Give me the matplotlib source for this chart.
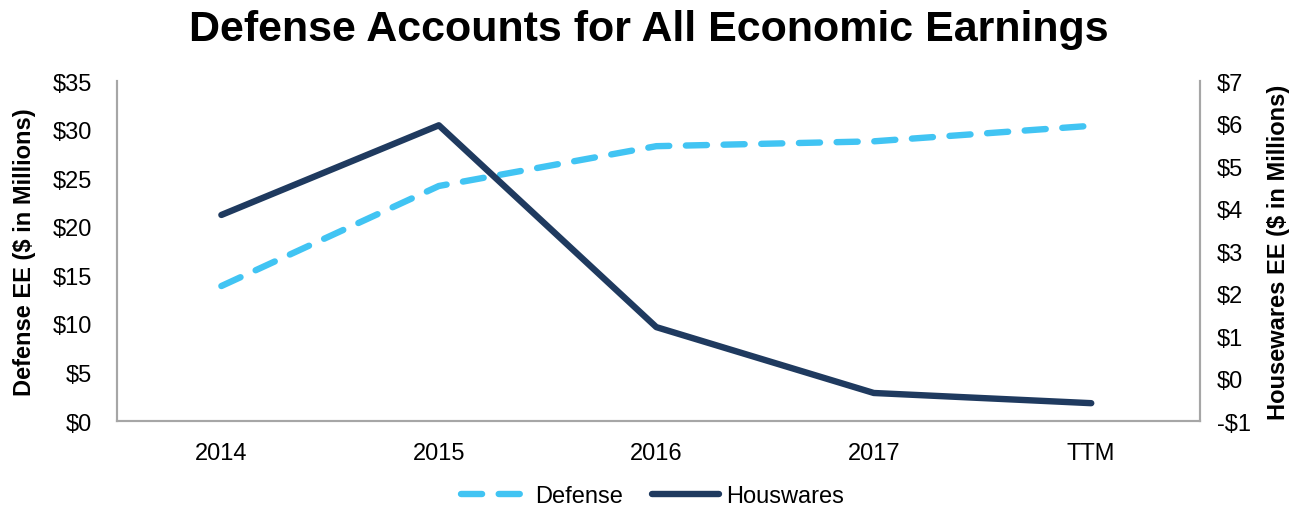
import matplotlib.pyplot as plt
from matplotlib.ticker import FuncFormatter

plt.rcParams['font.family'] = ['Liberation Sans', 'DejaVu Sans']

categories = ["2014", "2015", "2016", "2017", "TTM"]
defense = [13.9, 24.2, 28.3, 28.8, 30.4]
housewares = [3.85, 5.96, 1.21, -0.34, -0.58]

c_def = "#41C4F3"
c_house = "#1F3A5F"
grey = "#A6A6A6"
fs = 17

fig = plt.figure(figsize=(12.97, 5.10), dpi=100)
ax = fig.add_axes([0.0902, 0.1725, 0.835, 0.6665])
ax2 = ax.twinx()

x = list(range(len(categories)))
l1, = ax.plot(x, defense, color=c_def, lw=4.6, dashes=(3.3, 2.6), dash_capstyle='round',
              solid_capstyle='round', label="Defense")
l2, = ax2.plot(x, housewares, color=c_house, lw=4.6, solid_capstyle='round',
               solid_joinstyle='round', label="Houswares")

ax.set_xlim(-0.48, 4.5)
ax.set_ylim(0, 35)
ax.set_yticks(range(0, 36, 5))
ax2.set_ylim(-1, 7)
ax2.set_yticks(range(-1, 8))

money = FuncFormatter(lambda v, p: f"-${abs(v):.0f}" if v < 0 else f"${v:.0f}")
ax.yaxis.set_major_formatter(money)
ax2.yaxis.set_major_formatter(money)
ax.set_xticks(x)
ax.set_xticklabels(categories)

for a in (ax, ax2):
    a.tick_params(length=0, labelsize=fs)
    a.spines["top"].set_visible(False)
    for s in ("left", "right", "bottom"):
        a.spines[s].set_color(grey)
        a.spines[s].set_linewidth(1.5)
ax.tick_params(axis='x', pad=15)
ax.tick_params(axis='y', pad=18)
ax2.tick_params(axis='y', pad=12)

ax.set_ylabel("Defense EE ($ in Millions)", fontsize=fs, fontweight='bold', labelpad=12)
ax2.set_ylabel("Housewares EE ($ in Millions)", fontsize=fs, fontweight='bold', labelpad=12)

fig.text(0.5, 0.941, "Defense Accounts for All Economic Earnings", fontsize=31,
         fontweight='bold', ha='center', va='center')

fig.legend([l1, l2], ["Defense", "Houswares"], loc='center', ncol=2,
           bbox_to_anchor=(0.503, 0.025), frameon=False, fontsize=fs,
           handlelength=2.85, columnspacing=1.2, handletextpad=0.3)

fig.savefig("out.png", dpi=100)
